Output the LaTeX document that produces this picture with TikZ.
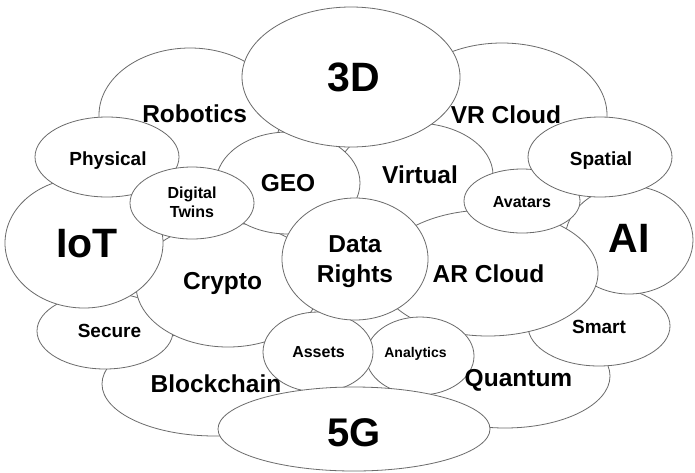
\documentclass[tikz,border=0pt]{standalone}
\usepackage{fontspec}
\setmainfont{Liberation Sans}
\usetikzlibrary{shapes.geometric}

% label sizes
\newcommand\szbig{\fontsize{41}{49}\selectfont\bfseries}
\newcommand\szfive{\fontsize{40}{48}\selectfont\bfseries}
\newcommand\szmid{\fontsize{24.5}{30}\selectfont\bfseries}
\newcommand\szsmall{\fontsize{19}{23}\selectfont\bfseries}
\newcommand\sztiny{\fontsize{16}{19}\selectfont\bfseries}
\newcommand\szmini{\fontsize{14}{17}\selectfont\bfseries}

\tikzset{
  blob/.style={ellipse, draw=black!58, line width=0.8pt, fill=white, inner sep=0pt},
  lbl/.style={inner sep=0pt, text=black},
}

\begin{document}
\begin{tikzpicture}[x=1pt, y=-1pt]
\useasboundingbox (0,0) rectangle (695,472);
\fill[white] (0,0) rectangle (695,472);

% ellipses, back to front
\node[blob, minimum width=182pt, minimum height=134pt] (robotics) at (190,115) {};
\node[blob, minimum width=210pt, minimum height=144pt] (vrcloud) at (502,115) {};
\node[blob, minimum width=156pt, minimum height=104pt] (virtual) at (415,175) {};
\node[blob, minimum width=226pt, minimum height=104pt] (blockchain) at (215,384) {};
\node[blob, minimum width=136pt, minimum height=76pt] (secure) at (105,331) {};
\node[blob, minimum width=184pt, minimum height=124pt] (crypto) at (228,285) {};
\node[blob, minimum width=158pt, minimum height=130pt] (iot) at (84,243) {};
\node[blob, minimum width=144pt, minimum height=80pt] (physical) at (107,157) {};
\node[blob, minimum width=144pt, minimum height=102pt] (geo) at (288,183) {};
\node[blob, minimum width=124pt, minimum height=72pt] (twins) at (192,203) {};
\node[blob, minimum width=218pt, minimum height=140pt] (threed) at (351,77) {};
\node[blob, minimum width=210pt, minimum height=104pt] (quantum) at (505,376) {};
\node[blob, minimum width=142pt, minimum height=80pt] (smart) at (599,326) {};
\node[blob, minimum width=128pt, minimum height=108pt] (ai) at (629,240) {};
\node[blob, minimum width=220pt, minimum height=126pt] (arcloud) at (488,273) {};
\node[blob, minimum width=108pt, minimum height=78pt] (analytics) at (420,356) {};
\node[blob, minimum width=110pt, minimum height=80pt] (assets) at (318,352) {};
\node[blob, minimum width=146pt, minimum height=122pt] (rights) at (355,259) {};
\node[blob, minimum width=116pt, minimum height=64pt] (avatars) at (522,201) {};
\node[blob, minimum width=144pt, minimum height=80pt] (spatial) at (600,157) {};
\node[blob, minimum width=272pt, minimum height=84pt] (fiveg) at (354,429) {};

% labels
\node[lbl, font=\szbig, anchor=base] (t-threed) at (354,91.7) {3D};
\node[lbl, font=\szbig, anchor=base] (t-iot) at (87,257.7) {IoT};
\node[lbl, font=\szbig, anchor=base] (t-ai) at (629,252.7) {AI};
\node[lbl, font=\szfive, anchor=base] (t-fiveg) at (354,446.3) {5G};

\node[lbl, font=\szmid, anchor=base] (t-robotics) at (194.7,122.8) {Robotics};
\node[lbl, font=\szmid, anchor=base] (t-vrcloud) at (506,123.3) {VR Cloud};
\node[lbl, font=\szmid, anchor=base] (t-geo) at (288,191.3) {GEO};
\node[lbl, font=\szmid, anchor=base] (t-virtual) at (420,183.8) {Virtual};
\node[lbl, font=\szmid, anchor=base] (t-crypto) at (222.5,289.8) {Crypto};
\node[lbl, font=\szmid, anchor=base] (t-arcloud) at (488.5,282.8) {AR Cloud};
\node[lbl, font=\szmid, anchor=base] (t-blockchain) at (216,392.3) {Blockchain};
\node[lbl, font=\szmid, anchor=base] (t-quantum) at (518.5,386.8) {Quantum};
\node[lbl, font=\szmid, align=center] (t-rights) at (355,261.5) {Data\\Rights};

\node[lbl, font=\szsmall, anchor=base] (t-physical) at (108,165.8) {Physical};
\node[lbl, font=\szsmall, anchor=base] (t-spatial) at (601,165.8) {Spatial};
\node[lbl, font=\szsmall, anchor=base] (t-secure) at (109.5,337.8) {Secure};
\node[lbl, font=\szsmall, anchor=base] (t-smart) at (599,333.8) {Smart};

\node[lbl, font=\sztiny, anchor=base] (t-avatars) at (522,207.7) {Avatars};
\node[lbl, font=\sztiny, anchor=base] (t-assets) at (318.5,357.7) {Assets};
\node[lbl, font=\sztiny, align=center] (t-twins) at (192,202.5) {Digital\\Twins};
\node[lbl, font=\szmini, anchor=base] (t-analytics) at (415.5,357) {Analytics};
\end{tikzpicture}
\end{document}
